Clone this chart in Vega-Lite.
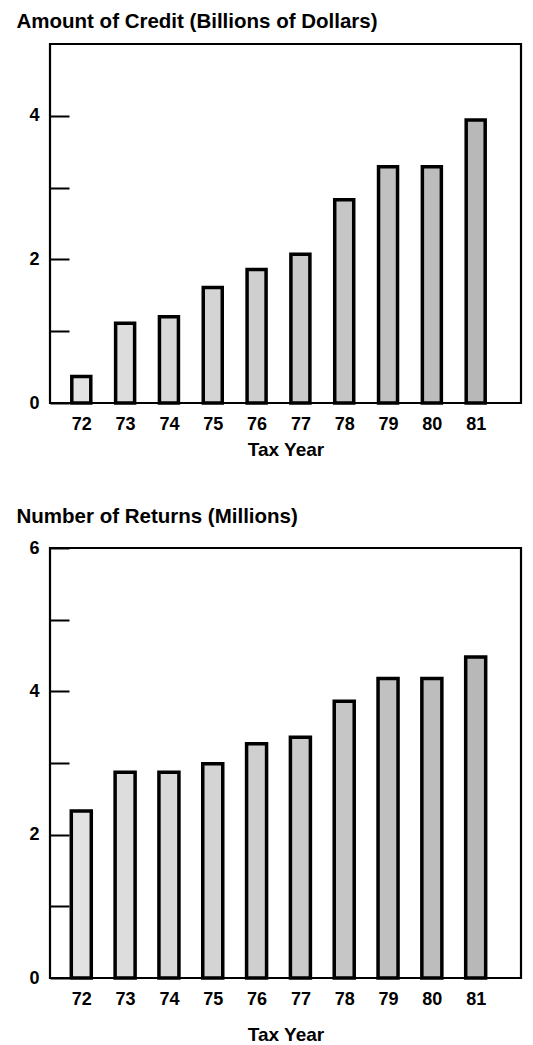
{
  "$schema": "https://vega.github.io/schema/vega-lite/v6.json",
  "background": "white",
  "padding": {"left": 15, "top": 10, "right": 5, "bottom": 0},
  "spacing": 44,
  "data": {"values": [
    {"year": 72, "credit": 0.37, "returns": 2.33},
    {"year": 73, "credit": 1.11, "returns": 2.87},
    {"year": 74, "credit": 1.2, "returns": 2.87},
    {"year": 75, "credit": 1.61, "returns": 2.99},
    {"year": 76, "credit": 1.86, "returns": 3.27},
    {"year": 77, "credit": 2.07, "returns": 3.36},
    {"year": 78, "credit": 2.83, "returns": 3.86},
    {"year": 79, "credit": 3.29, "returns": 4.18},
    {"year": 80, "credit": 3.29, "returns": 4.18},
    {"year": 81, "credit": 3.94, "returns": 4.48}
  ]},
  "config": {
    "view": {"stroke": "black", "strokeWidth": 2.2},
    "font": "Liberation Sans",
    "axis": {
      "labelFont": "Liberation Sans", "labelFontSize": 18, "labelFontWeight": "bold", "labelColor": "black",
      "titleFont": "Liberation Sans", "titleFontSize": 19, "titleFontWeight": "bold", "titleColor": "black",
      "grid": false, "domain": false, "labelFlush": false
    },
    "title": {"font": "Liberation Sans", "fontSize": 20.5, "fontWeight": "bold", "color": "black", "anchor": "start", "frame": "group"}
  },
  "vconcat": [
    {
      "width": 471, "height": 359,
      "title": {"text": "Amount of Credit (Billions of Dollars)", "dx": -33.5, "offset": 12},
      "mark": {"type": "bar", "stroke": "black", "strokeWidth": 3.5, "size": 19},
      "encoding": {
        "x": {"field": "year", "type": "quantitative",
              "scale": {"domain": [71.4, 81.92], "nice": false, "zero": false},
              "axis": {"values": [72, 73, 74, 75, 76, 77, 78, 79, 80, 81], "format": "d", "ticks": false, "labelPadding": 12, "title": "Tax Year", "titlePadding": 7}},
        "y": {"field": "credit", "type": "quantitative",
              "scale": {"domain": [0, 5], "nice": false},
              "axis": {"values": [0, 1, 2, 3, 4], "labelExpr": "datum.value % 2 == 0 ? datum.label : ''", "tickSize": -19, "tickWidth": 2, "tickColor": "black", "labelPadding": 30, "title": null}},
        "color": {"field": "year", "type": "quantitative", "scale": {"range": ["#e2e2e2", "#b8b8b8"]}, "legend": null}
      }
    },
    {
      "width": 471, "height": 430,
      "title": {"text": "Number of Returns (Millions)", "dx": -33.5, "offset": 12},
      "mark": {"type": "bar", "stroke": "black", "strokeWidth": 3.5, "size": 20},
      "encoding": {
        "x": {"field": "year", "type": "quantitative",
              "scale": {"domain": [71.4, 81.92], "nice": false, "zero": false},
              "axis": {"values": [72, 73, 74, 75, 76, 77, 78, 79, 80, 81], "format": "d", "ticks": false, "labelPadding": 12, "title": "Tax Year", "titlePadding": 17}},
        "y": {"field": "returns", "type": "quantitative",
              "scale": {"domain": [0, 6], "nice": false},
              "axis": {"values": [0, 1, 2, 3, 4, 5, 6], "labelExpr": "datum.value % 2 == 0 ? datum.label : ''", "tickSize": -19, "tickWidth": 2, "tickColor": "black", "labelPadding": 30, "title": null}},
        "color": {"field": "year", "type": "quantitative", "scale": {"range": ["#e2e2e2", "#b8b8b8"]}, "legend": null}
      }
    }
  ]
}
